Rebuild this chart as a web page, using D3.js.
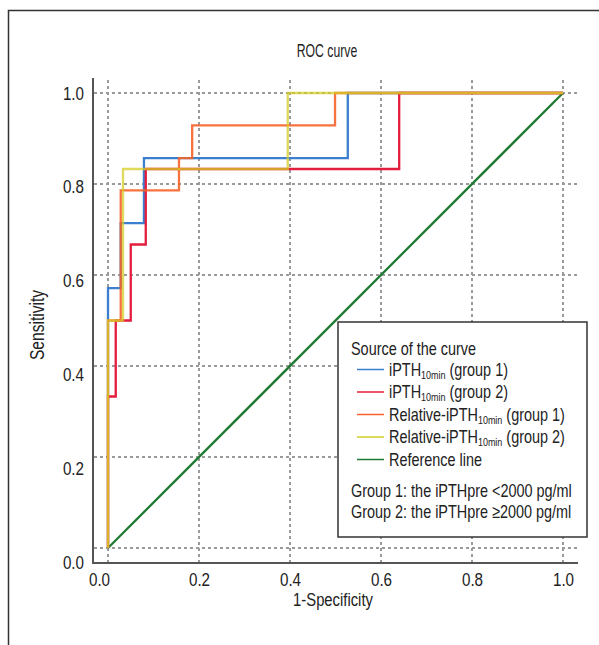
<!DOCTYPE html>
<html><head><meta charset="utf-8">
<script src="https://cdn.jsdelivr.net/npm/d3@7"></script>
<style>
body{margin:0;background:#fff;}
svg{display:block;font-family:"Liberation Sans",Arial,sans-serif;}
</style></head>
<body><svg id="c" width="599" height="645"></svg>
<script>
// ---- data ----
const tickValues = [0, 0.2, 0.4, 0.6, 0.8, 1.0];
const tickLabels = ["0.0", "0.2", "0.4", "0.6", "0.8", "1.0"];

const iPTHg1_fpr = [0, 0, 0.028, 0.028, 0.079, 0.079, 0.527, 0.527, 1];
const iPTHg1_tpr = [0, 0.571, 0.571, 0.714, 0.714, 0.857, 0.857, 1, 1];

const iPTHg2_fpr = [0, 0, 0.017, 0.017, 0.05, 0.05, 0.083, 0.083, 0.64, 0.64, 1];
const iPTHg2_tpr = [0, 0.333, 0.333, 0.5, 0.5, 0.667, 0.667, 0.833, 0.833, 1, 1];

const relg1_fpr = [0, 0, 0.028, 0.028, 0.156, 0.156, 0.185, 0.185, 0.499, 0.499, 1];
const relg1_tpr = [0, 0.5, 0.5, 0.786, 0.786, 0.857, 0.857, 0.929, 0.929, 1, 1];

const relg2_fpr = [0, 0, 0.033, 0.033, 0.395, 0.395, 1];
const relg2_tpr = [0, 0.5, 0.5, 0.833, 0.833, 1, 1];

const ref_fpr = [0, 1];
const ref_tpr = [0, 1];

const seriesNames = ["iPTH|10min| (group 1)", "iPTH|10min| (group 2)", "Relative-iPTH|10min| (group 1)", "Relative-iPTH|10min| (group 2)", "Reference line"];
const notes = ["Group 1: the iPTHpre <2000 pg/ml", "Group 2: the iPTHpre \u22652000 pg/ml"];

// ---- styles ----
const colors = ["#3d7fcf", "#e31d3c", "#f5632a", "#d4cc26", "#1f7a33"];
const opac = [1, 1, 0.9, 0.75, 1];
const SX = 0.8; // condensed look

const svg = d3.select("#c");

function txt(parent, x0, y0, size, str, anchor, sx) {
  return parent.append("text")
    .attr("transform", `translate(${x0},${y0}) scale(${sx || SX},1)`)
    .attr("font-size", size).attr("fill", "#222")
    .attr("text-anchor", anchor || "start").text(str);
}

// frame
svg.append("rect").attr("x", 8.5).attr("y", 10.5).attr("width", 700).attr("height", 700)
  .attr("fill", "none").attr("stroke", "#333").attr("stroke-width", 1.5);

const x = d3.scaleLinear().domain([0, 1]).range([108, 563]);
const y = d3.scaleLinear().domain([0, 1]).range([548, 93]);
const yLab = d3.scaleLinear().domain([0, 1]).range([562, 93]);

// grid
const grid = svg.append("g").attr("stroke", "#9a9a9a").attr("stroke-width", 2).attr("stroke-dasharray", "3,3");
grid.selectAll("line.v").data(tickValues).join("line")
  .attr("x1", d => x(d)).attr("x2", d => x(d)).attr("y1", 80).attr("y2", 563);
grid.selectAll("line.h").data(tickValues).join("line")
  .attr("y1", d => y(d)).attr("y2", d => y(d)).attr("x1", 94).attr("x2", 578);

// axes lines
svg.append("line").attr("x1", 93).attr("x2", 93).attr("y1", 78).attr("y2", 564).attr("stroke", "#555").attr("stroke-width", 2);
svg.append("line").attr("x1", 92).attr("x2", 578).attr("y1", 563).attr("y2", 563).attr("stroke", "#555").attr("stroke-width", 2);

// x axis labels
const xAx = svg.append("g").attr("transform", "translate(0,565)")
  .call(d3.axisBottom(x).tickValues(tickValues).tickSize(0).tickFormat((d, i) => tickLabels[i]));
xAx.select(".domain").remove();
xAx.selectAll("text").attr("font-size", 19).attr("fill", "#222").attr("font-family", "Liberation Sans, Arial, sans-serif")
  .attr("dy", "0.95em").attr("x", (d, i) => i === 0 ? -9 / SX : 0)
  .attr("transform", `scale(${SX},1)`);

// y axis labels
const yAx = svg.append("g").attr("transform", "translate(84,0)")
  .call(d3.axisLeft(yLab).tickValues(tickValues).tickSize(0).tickFormat((d, i) => tickLabels[i]));
yAx.select(".domain").remove();
yAx.selectAll("text").attr("font-size", 19).attr("fill", "#222").attr("font-family", "Liberation Sans, Arial, sans-serif")
  .attr("x", 0).attr("transform", `scale(${SX},1)`);

// titles
txt(svg, 327, 57, 17.5, "ROC curve", "middle", 0.7);
txt(svg, 333, 606, 19, "1-Specificity", "middle", 0.78);
svg.append("text").attr("transform", "translate(44,325) rotate(-90) scale(0.8,1)")
  .attr("text-anchor", "middle").attr("font-size", 19.5).attr("fill", "#222").text("Sensitivity");

// curves
const line = d3.line().x(d => x(d[0])).y(d => y(d[1]));
const curves = [
  [iPTHg1_fpr, iPTHg1_tpr],
  [iPTHg2_fpr, iPTHg2_tpr],
  [relg1_fpr, relg1_tpr],
  [relg2_fpr, relg2_tpr],
  [ref_fpr, ref_tpr]
];
const order = [4, 0, 1, 2, 3];
order.forEach(i => {
  const pts = curves[i][0].map((v, k) => [v, curves[i][1][k]]);
  svg.append("path").attr("d", line(pts)).attr("fill", "none")
    .attr("stroke", colors[i]).attr("stroke-opacity", opac[i]).attr("stroke-width", 2.3);
});

// legend
const lg = svg.append("g");
lg.append("rect").attr("x", 338).attr("y", 322).attr("width", 249).attr("height", 215)
  .attr("fill", "#fff").attr("stroke", "#333").attr("stroke-width", 1.5);
txt(lg, 351, 355, 18.5, "Source of the curve", "start", 0.78);
const rowY = [369.5, 392, 414.5, 437, 459.5];
seriesNames.forEach((name, i) => {
  lg.append("line").attr("x1", 357).attr("x2", 384).attr("y1", rowY[i]).attr("y2", rowY[i])
    .attr("stroke", colors[i]).attr("stroke-width", 1.5);
  const parts = name.split("|");
  const t = txt(lg, 389, rowY[i] + 6, 18.5, null, "start", 0.78);
  t.append("tspan").text(parts[0]);
  if (parts.length > 1) {
    t.append("tspan").attr("font-size", 11.5).attr("dy", 3).text(parts[1]);
    t.append("tspan").attr("dy", -3).text(parts[2]);
  }
});
notes.forEach((n, i) => {
  txt(lg, 351, 497 + i * 20.5, 18.5, n, "start", 0.78);
});
</script></body></html>
